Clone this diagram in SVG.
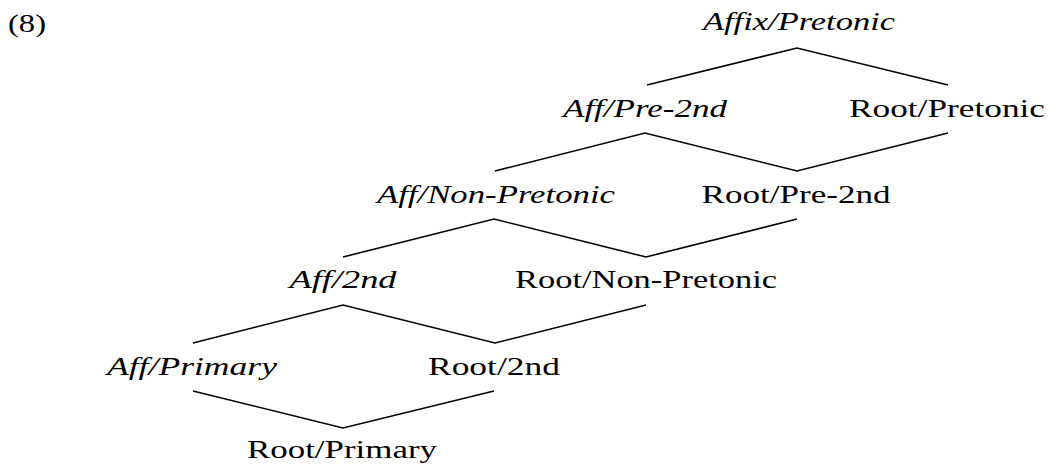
<svg xmlns="http://www.w3.org/2000/svg" width="1051" height="470" viewBox="0 0 1051 470">
<style>
text{font-family:"Liberation Serif","Times New Roman",serif;font-size:25px;fill:#000;text-anchor:middle}
.it{font-style:italic}
.c line,.c polyline{stroke:#000;stroke-width:1.6;fill:none;stroke-linecap:butt}
</style>
<rect width="1051" height="470" fill="#fff"/>
<g id="label8"><text x="27" y="32" textLength="38" lengthAdjust="spacingAndGlyphs">(8)</text></g>
<g class="c" id="connectors">
<polyline points="647,85 797,48 948,85"/>
<polyline points="495,171 645,133 797,171 948,133"/>
<polyline points="343,257 494,219 646,257 797,219"/>
<polyline points="193,343 343,305 495,343 646,305"/>
<polyline points="193,391 343,428 494,391"/>
</g>
<g id="n-affix-pretonic"><text class="it" x="799" y="30" textLength="192" lengthAdjust="spacingAndGlyphs">Affix/Pretonic</text></g>
<g id="n-aff-pre2nd"><text class="it" x="645" y="117" textLength="164" lengthAdjust="spacingAndGlyphs">Aff/Pre-2nd</text></g>
<g id="n-root-pretonic"><text x="947" y="117" textLength="196" lengthAdjust="spacingAndGlyphs">Root/Pretonic</text></g>
<g id="n-aff-nonpretonic"><text class="it" x="496" y="203" textLength="238" lengthAdjust="spacingAndGlyphs">Aff/Non-Pretonic</text></g>
<g id="n-root-pre2nd"><text x="796" y="203" textLength="189" lengthAdjust="spacingAndGlyphs">Root/Pre-2nd</text></g>
<g id="n-aff-2nd"><text class="it" x="343" y="288" textLength="107" lengthAdjust="spacingAndGlyphs">Aff/2nd</text></g>
<g id="n-root-nonpretonic"><text x="646" y="288" textLength="262" lengthAdjust="spacingAndGlyphs">Root/Non-Pretonic</text></g>
<g id="n-aff-primary"><text class="it" x="192" y="375" textLength="170" lengthAdjust="spacingAndGlyphs">Aff/Primary</text></g>
<g id="n-root-2nd"><text x="494" y="375" textLength="132" lengthAdjust="spacingAndGlyphs">Root/2nd</text></g>
<g id="n-root-primary"><text x="342" y="458" textLength="190" lengthAdjust="spacingAndGlyphs">Root/Primary</text></g>
</svg>
